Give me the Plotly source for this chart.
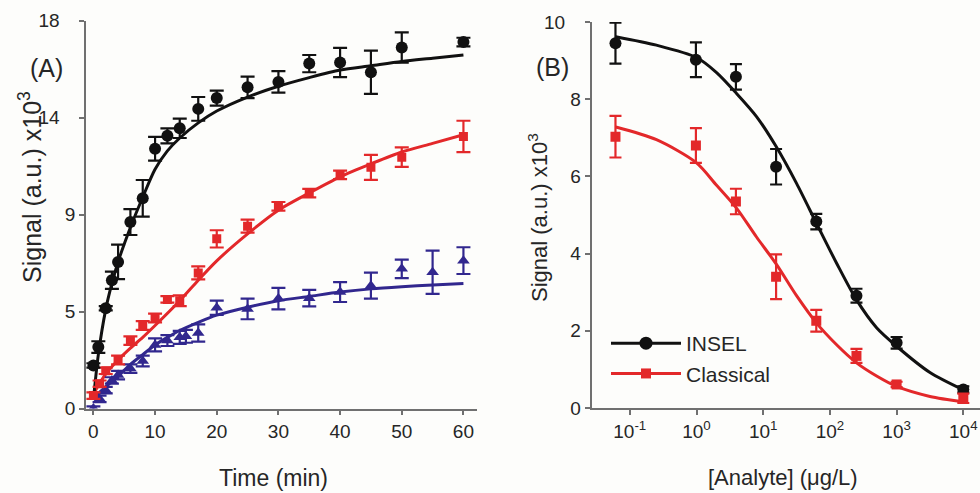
import plotly.graph_objects as go

# ---------------- Panel A data (Time in min, signal x10^3) ----------------
a_black_x = [0, 0.8, 2, 3, 4, 6, 8, 10, 12, 14, 17, 20, 25, 30, 35, 40, 45, 50, 60]
a_black_y = [2.0, 2.85, 4.65, 5.95, 6.8, 8.65, 9.75, 12.05, 12.65, 13.0, 13.9, 14.4, 14.9, 15.15, 16.0, 16.05, 15.6, 16.75, 17.0]
a_black_err = [0.1, 0.27, 0.1, 0.4, 0.8, 0.6, 0.85, 0.55, 0.35, 0.45, 0.55, 0.35, 0.5, 0.5, 0.4, 0.68, 1.0, 0.7, 0.2]

a_red_x = [0, 1, 2, 4, 6, 8, 10, 12, 14, 17, 20, 25, 30, 35, 40, 45, 50, 60]
a_red_y = [0.6, 1.15, 1.75, 2.25, 3.15, 3.85, 4.2, 5.06, 5.0, 6.29, 7.87, 8.46, 9.38, 9.99, 10.84, 11.19, 11.66, 12.62]
a_red_err = [0.15, 0.15, 0.15, 0.2, 0.2, 0.2, 0.2, 0.15, 0.25, 0.3, 0.4, 0.3, 0.2, 0.2, 0.2, 0.58, 0.45, 0.73]

a_blue_x = [0, 1, 2, 3, 4, 6, 8, 10, 12, 14, 15, 17, 20, 25, 30, 35, 40, 45, 50, 55, 60]
a_blue_y = [0.0, 0.45, 0.85, 1.3, 1.55, 1.85, 2.2, 2.95, 3.15, 3.3, 3.35, 3.5, 4.67, 4.62, 5.1, 5.12, 5.4, 5.7, 6.48, 6.32, 6.86]
a_blue_err = [0.1, 0.15, 0.15, 0.15, 0.2, 0.2, 0.25, 0.3, 0.25, 0.3, 0.3, 0.4, 0.33, 0.48, 0.5, 0.38, 0.46, 0.6, 0.43, 1.0, 0.62]

# fitted curves
a_black_fit_x = [0, 0.8, 2, 3, 4, 6, 8, 10, 12, 14, 17, 20, 25, 30, 35, 40, 45, 50, 55, 60]
a_black_fit_y = [0.4, 2.5, 4.6, 5.8, 6.8, 8.4, 9.8, 11.1, 11.95, 12.55, 13.25, 13.8, 14.45, 14.95, 15.35, 15.7, 15.9, 16.1, 16.25, 16.4]
a_red_fit_x = [0, 2, 4, 6, 8, 10, 14, 17, 20, 25, 30, 35, 40, 45, 50, 55, 60]
a_red_fit_y = [0.68, 1.6, 2.25, 2.8, 3.3, 3.85, 5.0, 5.95, 6.85, 8.1, 9.2, 10.0, 10.75, 11.35, 11.9, 12.3, 12.7]
a_blue_fit_x = [0, 2, 4, 6, 8, 10, 12, 14, 17, 20, 25, 30, 35, 40, 45, 50, 55, 60]
a_blue_fit_y = [0.5, 1.0, 1.5, 2.05, 2.5, 2.95, 3.3, 3.62, 4.0, 4.33, 4.7, 5.0, 5.2, 5.4, 5.55, 5.65, 5.73, 5.8]

a_yticks = [0, 4.5, 9, 13.5, 18]
a_yticktext = ["0", "5", "9", "14\u00a0\u00a0\u00a0", "18\u00a0\u00a0\u00a0"]
a_xticks = [0, 10, 20, 30, 40, 50, 60]

# ---------------- Panel B data (Analyte in ug/L) ----------------
b_conc = [0.061, 0.98, 3.9, 15.6, 62.5, 250, 1000, 10000]
insel_y = [9.45, 9.02, 8.58, 6.25, 4.83, 2.91, 1.69, 0.48]
insel_err = [0.53, 0.45, 0.33, 0.46, 0.2, 0.18, 0.15, 0.08]
classical_y = [7.03, 6.8, 5.35, 3.4, 2.26, 1.35, 0.61, 0.25]
classical_err = [0.54, 0.45, 0.33, 0.58, 0.28, 0.18, 0.07, 0.12]

b_fit_x = [0.0617, 0.251, 1.0, 2.0, 3.98, 7.94, 15.8, 31.6, 63.1, 126, 251, 501, 1000, 3162, 10000]
insel_fit_y = [9.62, 9.40, 9.08, 8.69, 8.15, 7.55, 6.76, 5.82, 4.78, 3.75, 2.8, 2.08, 1.6, 0.92, 0.47]
classical_fit_y = [7.28, 6.95, 6.35, 5.77, 5.18, 4.43, 3.72, 2.91, 2.2, 1.64, 1.17, 0.83, 0.56, 0.30, 0.16]

b_xticks = [0.1, 1, 10, 100, 1000, 10000]
b_xticktext = ["10<sup>-1</sup>", "10<sup>0</sup>", "10<sup>1</sup>", "10<sup>2</sup>", "10<sup>3</sup>", "10<sup>4</sup>"]
b_yticks = [0, 2, 4, 6, 8, 10]
b_yticktext = ["0", "2", "4", "6", "8", "10\u00a0\u00a0\u00a0"]

# ---------------- Style ----------------
BLACK = "#111111"
RED = "#e3282a"
BLUE = "#31278e"
AXC = "#707070"
TXT = "#262626"
FONT = "Liberation Sans, Arial, sans-serif"
W, H = 980, 493

fig = go.Figure()

# Panel A fits
for fx, fy, col in [(a_blue_fit_x, a_blue_fit_y, BLUE), (a_red_fit_x, a_red_fit_y, RED),
                    (a_black_fit_x, a_black_fit_y, BLACK)]:
    fig.add_trace(go.Scatter(x=fx, y=fy, mode="lines", line=dict(color=col, width=3, shape="spline", smoothing=0.8),
                             xaxis="x", yaxis="y", showlegend=False, hoverinfo="skip"))

# Panel A points
for px, py, pe, col, sym, sz in [(a_blue_x, a_blue_y, a_blue_err, BLUE, "triangle-up", 11),
                                 (a_red_x, a_red_y, a_red_err, RED, "square", 9),
                                 (a_black_x, a_black_y, a_black_err, BLACK, "circle", 12)]:
    fig.add_trace(go.Scatter(x=px, y=py, mode="markers",
                             marker=dict(color=col, symbol=sym, size=sz, line=dict(width=0)),
                             error_y=dict(type="data", array=pe, visible=True, color=col, thickness=2.2, width=7),
                             xaxis="x", yaxis="y", showlegend=False))

# Panel B fits
fig.add_trace(go.Scatter(x=b_fit_x, y=insel_fit_y, mode="lines", line=dict(color=BLACK, width=3, shape="spline", smoothing=0.8),
                         xaxis="x2", yaxis="y2", showlegend=False, hoverinfo="skip"))
fig.add_trace(go.Scatter(x=b_fit_x, y=classical_fit_y, mode="lines", line=dict(color=RED, width=3, shape="spline", smoothing=0.8),
                         xaxis="x2", yaxis="y2", showlegend=False, hoverinfo="skip"))
# Panel B points
fig.add_trace(go.Scatter(x=b_conc, y=insel_y, mode="markers", name="INSEL",
                         marker=dict(color=BLACK, symbol="circle", size=12),
                         error_y=dict(type="data", array=insel_err, visible=True, color=BLACK, thickness=2.2, width=6),
                         xaxis="x2", yaxis="y2", showlegend=False))
fig.add_trace(go.Scatter(x=b_conc, y=classical_y, mode="markers", name="Classical",
                         marker=dict(color=RED, symbol="square", size=10),
                         error_y=dict(type="data", array=classical_err, visible=True, color=RED, thickness=2.2, width=6),
                         xaxis="x2", yaxis="y2", showlegend=False))
# legend entries
fig.add_trace(go.Scatter(x=[None], y=[None], mode="lines+markers", name="INSEL",
                         line=dict(color=BLACK, width=3), marker=dict(color=BLACK, symbol="circle", size=13),
                         xaxis="x2", yaxis="y2"))
fig.add_trace(go.Scatter(x=[None], y=[None], mode="lines+markers", name="Classical",
                         line=dict(color=RED, width=3), marker=dict(color=RED, symbol="square", size=10),
                         xaxis="x2", yaxis="y2"))

tickfont = dict(family=FONT, size=19, color=TXT)
axis_common = dict(showline=True, linecolor=AXC, linewidth=1.5, ticks="outside", ticklen=5,
                   tickcolor=AXC, tickwidth=1.5, showgrid=False, zeroline=False, tickfont=tickfont,
                   mirror=False, automargin=False)

fig.update_layout(
    width=W, height=H,
    margin=dict(l=0, r=0, t=0, b=0, autoexpand=False),
    paper_bgcolor="#fdfdfb", plot_bgcolor="rgba(0,0,0,0)",
    font=dict(family=FONT, color=TXT),
    xaxis=dict(domain=[86 / W, 477 / W], range=[-1.2, 62.2], tickvals=a_xticks, anchor="y", **axis_common),
    yaxis=dict(domain=[1 - 408.5 / H, 1 - 20.5 / H], range=[0, 18], tickvals=a_yticks, ticktext=a_yticktext,
               anchor="x", **axis_common),
    xaxis2=dict(domain=[591.5 / W, 980 / W], type="log", range=[-1.574, 4.25], tickvals=b_xticks,
                ticktext=b_xticktext, anchor="y2", **axis_common),
    yaxis2=dict(domain=[1 - 408 / H, 1 - 22 / H], range=[0, 10], tickvals=b_yticks, ticktext=b_yticktext,
                anchor="x2", **axis_common),
    legend=dict(x=606 / W, y=1 - 323 / H, xanchor="left", yanchor="top", bgcolor="rgba(0,0,0,0)",
                font=dict(family=FONT, size=21, color=TXT), itemwidth=70, tracegroupgap=0),
    showlegend=True,
)

def ann(text, px, py, size, angle=0):
    fig.add_annotation(text=text, x=px / W, y=1 - py / H, xref="paper", yref="paper",
                       xanchor="center", yanchor="middle", showarrow=False, textangle=angle,
                       font=dict(family=FONT, size=size, color=TXT))

ann("(A)", 46, 68, 25)
ann("(B)", 552, 67, 25)
ann("Signal (a.u.) x10<sup>3</sup>", 30, 187, 25, -90)
ann("Signal (a.u.) x10<sup>3</sup>", 538, 218, 22, -90)
ann("Time (min)", 273, 478, 23)
ann("[Analyte] (\u03bcg/L)", 783, 477, 22)

fig.write_html("out.html")
